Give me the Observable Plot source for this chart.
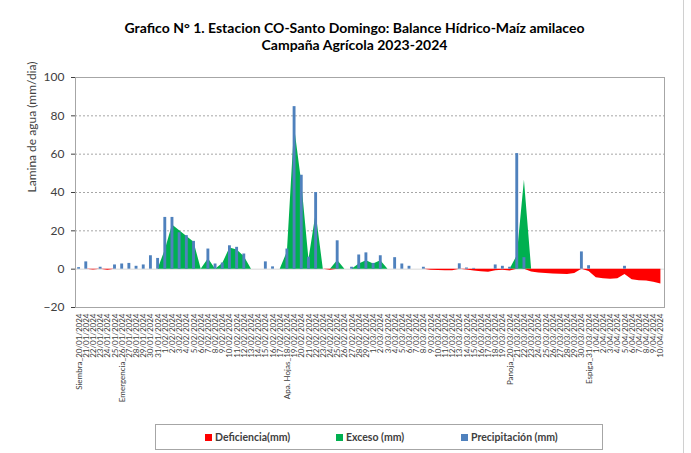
<!DOCTYPE html>
<html><head><meta charset="utf-8">
<script src="https://cdn.jsdelivr.net/npm/d3@7"></script>
<script src="https://cdn.jsdelivr.net/npm/@observablehq/plot@0.6"></script>
<style>
body{margin:0;background:#fff;font-family:Lato,"Open Sans",sans-serif;}
#wrap{position:relative;width:691px;height:453px;overflow:hidden;}
#edge{position:absolute;left:683px;top:0;width:0;height:453px;border-left:1px solid #d0d0d0;}
#title{box-sizing:border-box;height:62px;padding-top:19px;padding-left:18px;text-align:center;font-weight:bold;font-size:14px;line-height:17px;color:#000;}
#legend{position:absolute;left:155px;top:424px;width:448px;height:26px;box-sizing:border-box;border:1px solid #a6a6a6;display:flex;align-items:center;font-weight:bold;font-size:10.5px;color:#404040;}
.it{position:absolute;display:flex;align-items:center;}
.sw{width:7px;height:7px;margin-right:3px;}
</style>
</head><body>
<div id="wrap">
<div id="title">Grafico N° 1. Estacion CO-Santo Domingo: Balance Hídrico-Maíz amilaceo<br>Campaña Agrícola 2023-2024</div>
<div id="chart"></div>
<div id="legend"></div>
<div id="edge"></div>
</div>
<script>
const dateLabels = [
"Siembra_20/01/2024","21/01/2024","22/01/2024","23/01/2024","24/01/2024","25/01/2024","Emergencia_26/01/2024","27/01/2024","28/01/2024","29/01/2024","30/01/2024","31/01/2024",
"1/02/2024","2/02/2024","3/02/2024","4/02/2024","5/02/2024","6/02/2024","7/02/2024","8/02/2024","9/02/2024","10/02/2024","11/02/2024","12/02/2024","13/02/2024","14/02/2024","15/02/2024","16/02/2024","17/02/2024","Apa. Hojas_18/02/2024","19/02/2024","20/02/2024","21/02/2024","22/02/2024","23/02/2024","24/02/2024","25/02/2024","26/02/2024","27/02/2024","28/02/2024","29/02/2024",
"1/03/2024","2/03/2024","3/03/2024","4/03/2024","5/03/2024","6/03/2024","7/03/2024","8/03/2024","9/03/2024","10/03/2024","11/03/2024","12/03/2024","13/03/2024","14/03/2024","15/03/2024","16/03/2024","17/03/2024","18/03/2024","19/03/2024","Panoja_20/03/2024","21/03/2024","22/03/2024","23/03/2024","24/03/2024","25/03/2024","26/03/2024","27/03/2024","28/03/2024","29/03/2024","30/03/2024","Espiga_31/03/2024",
"1/04/2024","2/04/2024","3/04/2024","4/04/2024","5/04/2024","6/04/2024","7/04/2024","8/04/2024","9/04/2024","10/04/2024"
];
const precipitacion = [
0.8,3.8,0,1,0,2.2,2.7,3,1.5,2.2,
7,5.6,27,27,19,17.5,14.5,0,10.5,2.7,
3.2,12.2,11.4,7.9,0,0,3.8,1.2,0,10.5,
84.8,49,6.2,40,0,0,14.8,0,1,7.4,
8.5,3,7,0,6,2.7,1.5,0,1,0,
0,0,0,2.8,0.6,0.4,0,0,2.2,1.5,
1,60.3,6,0,0,0,0,0,0,0,
9,1.8,0,0,0,0,1.5,0,0,0,
0,0
];
const exceso = [
0,0,0,0,0,0,0,0,0,0,
0,0,10,23,20,17,14,0,5.5,0,
3,11,10,6.5,0,0,0,0,0,9,
74,45,5,29,0,0,4.5,0,0,2.7,
4.4,2.7,4.4,0,0,0,0,0,0,0,
0,0,0,0,0,0,0,0,0,0,
0,7,46.4,0,0,0,0,0,0,0,
0,0,0,0,0,0,0,0,0,0,
0,0
];
const deficiencia = [
0,0,-0.4,0,-0.5,0,0,0,0,0,
0,0,0,0,0,0,0,0,0,0,
0,0,0,0,0,0,0,0,0,0,
0,0,0,0,0,-0.5,0,0,0,0,
0,0,0,0,0,0,0,0,0,-0.5,
-0.7,-0.8,-0.8,0,-0.4,-0.9,-1.3,-1.6,-0.8,-0.6,
-1.0,0,0,-1.5,-2,-2.3,-2.5,-2.7,-2.8,-2.3,
0,-1.2,-4.5,-5,-5.2,-5,-2.8,-5.5,-6,-6.2,
-6.8,-7.7
];
const yTicks = [-20,0,20,40,60,80,100];
const series = [
  {name:"Deficiencia(mm)", color:"#FF0000"},
  {name:"Exceso (mm)", color:"#00B050"},
  {name:"Precipitación (mm)", color:"#4F81BD"}
];

const data = dateLabels.map((lab,i)=>({i, lab, p:precipitacion[i], exc:exceso[i], def:deficiencia[i]}));
const idx = data.map(d=>d.i);
const half = 0.2;

const plot = Plot.plot({
  width:691, height:355,
  marginTop:15, marginLeft:75, marginRight:27, marginBottom:110,
  style:{fontFamily:"Lato, 'Open Sans', sans-serif", color:"#404040", background:"#fff"},
  x:{domain:[-0.5, dateLabels.length-0.5], axis:null},
  y:{domain:[yTicks[0], yTicks[yTicks.length-1]], axis:null},
  marks:[
    Plot.ruleY(yTicks.slice(2,-1), {stroke:"#a6a6a6", strokeDasharray:"2,2"}),
    Plot.ruleY([0], {stroke:"#d9d9d9"}),
    Plot.areaY(data, {x:"i", y:"exc", fill:series[1].color}),
    Plot.areaY(data, {x:"i", y:"def", fill:series[0].color}),
    Plot.rectY(data.filter(d=>d.p>0), {x1:d=>d.i-half, x2:d=>d.i+half, y1:0, y2:"p", fill:series[2].color}),
    Plot.frame({stroke:"#a6a6a6"}),
    Plot.axisY(yTicks, {tickSize:4, tickPadding:7, fontSize:12, label:null}),
    Plot.axisX(idx, {tickFormat:i=>dateLabels[i], tickRotate:-90, tickSize:0, tickPadding:6, fontSize:8, label:null}),
    Plot.text(["Lamina de agua (mm/dia)"], {frameAnchor:"left", rotate:-90, dx:-43, fontSize:12, fill:"#404040"})
  ]
});
document.getElementById("chart").appendChild(plot);

const leg = document.getElementById("legend");
const xs = [49, 180, 305];
series.forEach((s,k)=>{
  const it = document.createElement("div");
  it.className = "it";
  it.style.left = xs[k]+"px";
  it.innerHTML = `<span class="sw" style="background:${s.color}"></span><span>${s.name}</span>`;
  leg.appendChild(it);
});
</script>
</body></html>
